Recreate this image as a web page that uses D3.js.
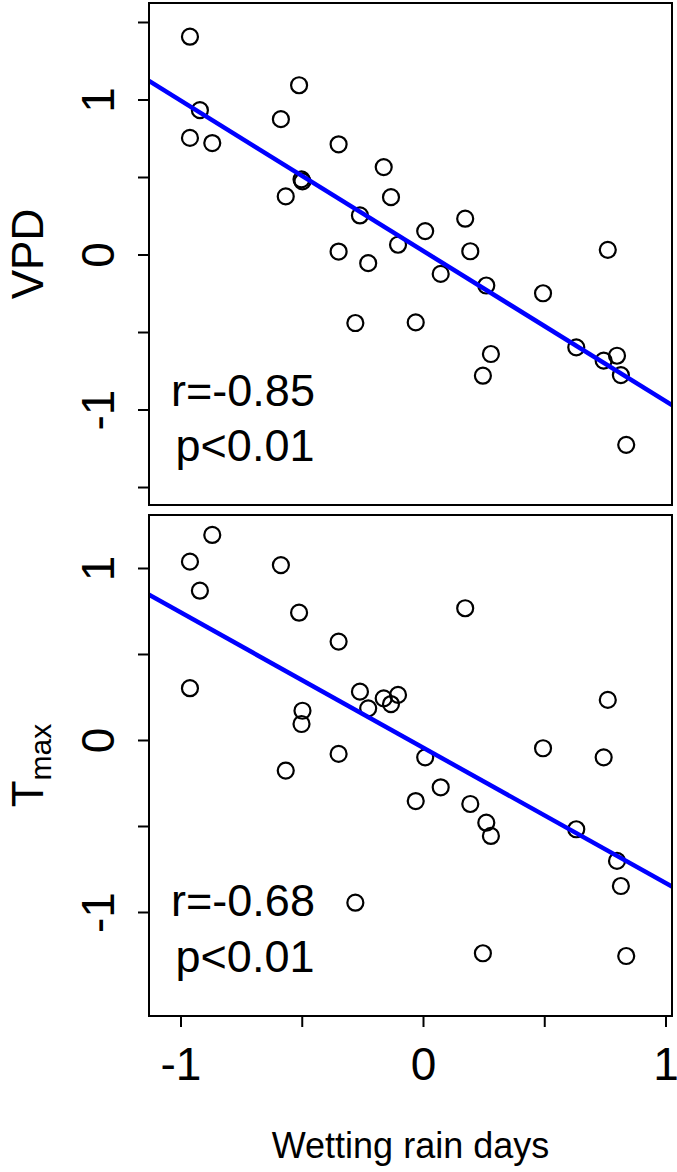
<!DOCTYPE html>
<html>
<head>
<meta charset="utf-8">
<script src="https://cdn.jsdelivr.net/npm/d3@7"></script>
<style>
  body { margin: 0; background: #fff; }
  text { font-family: "Liberation Sans", Arial, sans-serif; fill: #000; }
</style>
</head>
<body>
<script>
// standardized anomalies, one value per year
const rainDays = [-0.961, -0.961, -0.920, -0.869, -0.586, -0.566, -0.511, -0.501, -0.497, -0.348, -0.348,
  -0.279, -0.260, -0.226, -0.162, -0.132, -0.103, -0.030, 0.009, 0.073, 0.174, 0.195, 0.247, 0.261,
  0.280, 0.495, 0.632, 0.745, 0.762, 0.800, 0.816, 0.838];
const vpd = [1.405, 0.752, 0.931, 0.719, 0.873, 0.375, 1.092, 0.485, 0.472, 0.711, 0.019,
  -0.442, 0.252, -0.056, 0.564, 0.370, 0.063, -0.438, 0.151, -0.125, 0.231, 0.021, -0.782, -0.200,
  -0.642, -0.250, -0.599, -0.685, 0.030, -0.653, -0.778, -1.228];
const tmax = [1.037, 0.301, 0.868, 1.192, 1.017, -0.178, 0.740, 0.093, 0.170, 0.572, -0.081,
  -0.946, 0.281, 0.184, 0.242, 0.209, 0.262, -0.355, -0.101, -0.275, 0.766, -0.372, -1.240, -0.481,
  -0.558, -0.048, -0.519, -0.101, 0.233, -0.703, -0.849, -1.256];

const panels = [
  { name: "VPD", y: vpd, r: "r=-0.85", p: "p<0.01", top: 3, bottom: 505, ydom: [-1.616, 1.6225],
    ticks: [-1.5, -1, -0.5, 0, 0.5, 1, 1.5] },
  { name: "Tmax", y: tmax, r: "r=-0.68", p: "p<0.01", top: 515, bottom: 1016, ydom: [-1.6047, 1.3081],
    ticks: [-1, -0.5, 0, 0.5, 1] }
];
const xTicks = [-1, -0.5, 0, 0.5, 1];

const W = 677, H = 1172;
const left = 149, right = 672;

const svg = d3.select("body").append("svg").attr("width", W).attr("height", H);

const x = d3.scaleLinear().domain([-1.1299, 1.0268]).range([left, right]);

// plain hyphen for negatives, only whole numbers labelled
const lab = d => Number.isInteger(d) ? String(d) : "";

function fit(xs, ys) {
  const mx = d3.mean(xs), my = d3.mean(ys);
  let sxy = 0, sxx = 0;
  xs.forEach((v, i) => { sxy += (v - mx) * (ys[i] - my); sxx += (v - mx) * (v - mx); });
  const b = sxy / sxx;
  return { a: my - b * mx, b: b };
}

panels.forEach((pn, k) => {
  const y = d3.scaleLinear().domain(pn.ydom).range([pn.bottom, pn.top]);
  const g = svg.append("g");

  const clipId = "clip" + k;
  svg.append("clipPath").attr("id", clipId).append("rect")
    .attr("x", left).attr("y", pn.top).attr("width", right - left).attr("height", pn.bottom - pn.top);

  // points
  g.selectAll("circle").data(rainDays).enter().append("circle")
    .attr("cx", d => x(d))
    .attr("cy", (d, i) => y(pn.y[i]))
    .attr("r", 8)
    .style("fill", "none").style("stroke", "#000").style("stroke-width", 2.2);

  // least squares line
  const f = fit(rainDays, pn.y);
  const xd = x.domain();
  g.append("line")
    .attr("clip-path", "url(#" + clipId + ")")
    .attr("x1", x(xd[0])).attr("y1", y(f.a + f.b * xd[0]))
    .attr("x2", x(xd[1])).attr("y2", y(f.a + f.b * xd[1]))
    .style("stroke", "#0000ff").style("stroke-width", 4.5);

  // box
  g.append("rect").attr("x", left).attr("y", pn.top)
    .attr("width", right - left).attr("height", pn.bottom - pn.top)
    .style("fill", "none").style("stroke", "#000").style("stroke-width", 2);

  // y axis
  const ya = g.append("g").attr("transform", "translate(" + left + ",0)")
    .call(d3.axisLeft(y).tickValues(pn.ticks).tickSize(11).tickSizeOuter(0).tickFormat(lab));
  ya.select(".domain").remove();
  ya.selectAll(".tick line").style("stroke", "#000").style("stroke-width", 2);
  ya.selectAll(".tick text")
    .attr("x", null).attr("dy", null)
    .attr("transform", "translate(-35,0) rotate(-90)")
    .attr("text-anchor", "middle")
    .style("font-size", "46px").style("font-family", "Liberation Sans, Arial, sans-serif");

  // y title
  const cy = (pn.top + pn.bottom) / 2;
  const t = g.append("text").attr("transform", "translate(43," + cy + ") rotate(-90)")
    .attr("text-anchor", "middle").style("font-size", "44px");
  if (pn.name === "Tmax") {
    t.append("tspan").text("T");
    t.append("tspan").attr("dy", 8).style("font-size", "30px").text("max");
  } else {
    t.text(pn.name);
  }

  // annotation
  g.append("text").attr("x", 243).attr("y", k === 0 ? 406 : 916)
    .attr("text-anchor", "middle").style("font-size", "45px").text(pn.r);
  g.append("text").attr("x", 245).attr("y", k === 0 ? 461 : 972)
    .attr("text-anchor", "middle").style("font-size", "45px").text(pn.p);

  if (k === 1) {
    const xa = g.append("g").attr("transform", "translate(0," + pn.bottom + ")")
      .call(d3.axisBottom(x).tickValues(xTicks).tickSize(11).tickSizeOuter(0).tickFormat(lab));
    xa.select(".domain").remove();
    xa.selectAll(".tick line").style("stroke", "#000").style("stroke-width", 2);
    xa.selectAll(".tick text").attr("y", 64).attr("dy", null)
      .style("font-size", "46px").style("font-family", "Liberation Sans, Arial, sans-serif");
  }
});

svg.append("text").attr("x", (left + right) / 2).attr("y", 1158)
  .attr("text-anchor", "middle").style("font-size", "36px").text("Wetting rain days");
</script>
</body>
</html>
